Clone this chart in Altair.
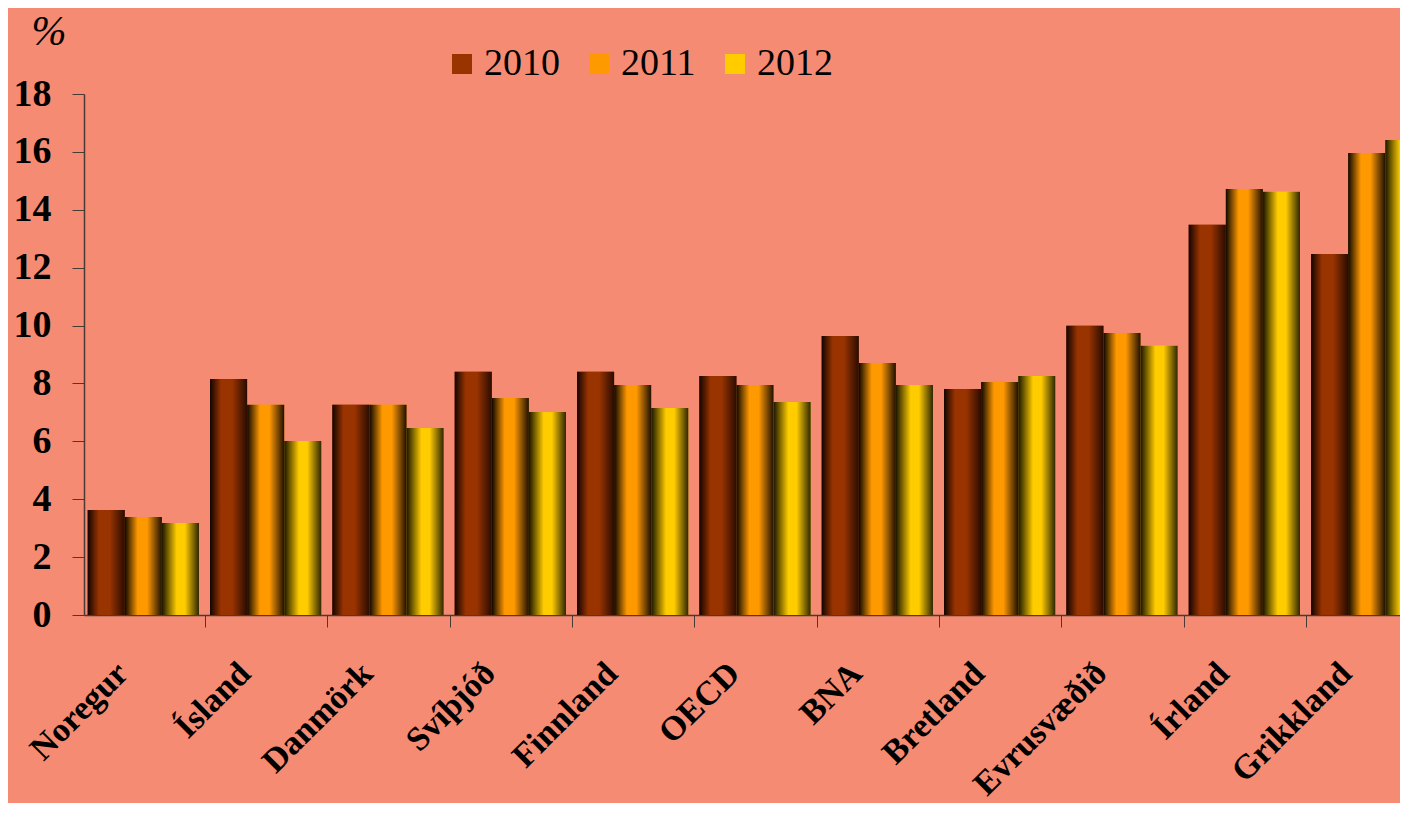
import altair as alt
import pandas as pd

countries = ["Noregur", "Ísland", "Danmörk", "Svíþjóð", "Finnland", "OECD",
             "BNA", "Bretland", "Evrusvæðið", "Írland", "Grikkland"]
years = ["2010", "2011", "2012"]
v2010 = [3.63, 8.15, 7.26, 8.40, 8.40, 8.26, 9.64, 7.81, 9.99, 13.48, 12.47]
v2011 = [3.39, 7.26, 7.26, 7.50, 7.95, 7.95, 8.71, 8.05, 9.74, 14.72, 15.96]
v2012 = [3.18, 6.01, 6.46, 7.01, 7.15, 7.36, 7.95, 8.26, 9.30, 14.62, 16.41]
y_ticks = [0, 2, 4, 6, 8, 10, 12, 14, 16, 18]

rows = []
for year, vals in zip(years, [v2010, v2011, v2012]):
    for c, v in zip(countries, vals):
        rows.append({"country": c, "year": year, "value": v})
df = pd.DataFrame(rows)

solid = ["#993300", "#FF9900", "#FFCC00"]
grad_stops = {
    "2010": [(0.0, "#120400"), (0.3, "#993300"), (0.6, "#993300"), (1.0, "#2a0c00")],
    "2011": [(0.0, "#0d0600"), (0.35, "#FF9900"), (0.6, "#FF9900"), (1.0, "#1f1000")],
    "2012": [(0.0, "#1a1500"), (0.4, "#FFCC00"), (0.62, "#FFCC00"), (1.0, "#2e2600")],
}

FONT = "Liberation Serif"
BG = "#F58B73"

x_enc = alt.X(
    "country:N",
    sort=countries,
    scale=alt.Scale(domain=countries, range=[0, 1342], paddingInner=0.09, paddingOuter=0.03),
    axis=alt.Axis(
        title=None, labelAngle=-45, labelAlign="right", labelBaseline="top",
        labelFont=FONT, labelFontSize=34, labelFontWeight="bold", labelColor="black",
        labelPadding=29, labelOffset=-39, bandPosition=1, tickExtra=False,
        tickOffset=6, tickSize=12,
        tickColor="#4a3a35", domainColor="#4a3a35", domainWidth=1.5, labelLimit=400,
    ),
)
y_enc = alt.Y(
    "value:Q",
    scale=alt.Scale(domain=[0, 18]),
    axis=alt.Axis(
        values=y_ticks, grid=False, format="d",
        labelFont=FONT, labelFontSize=38, labelFontWeight="bold", labelColor="black",
        labelPadding=21, tickSize=12, tickColor="#4a3a35",
        domainColor="#4a3a35", domainWidth=1.5,
        title="%", titleAngle=0, titleX=-53, titleY=-50, titleAlign="left",
        titleBaseline="alphabetic", titleFont=FONT, titleFontSize=42,
        titleFontWeight="normal", titleFontStyle="italic", titleColor="black",
    ),
)
xo_enc = alt.XOffset("year:N", scale=alt.Scale(domain=years))

base = alt.Chart(df).encode(x=x_enc, y=y_enc, xOffset=xo_enc)

legend_layer = base.mark_bar().encode(
    color=alt.Color(
        "year:N",
        scale=alt.Scale(domain=years, range=solid),
        legend=alt.Legend(
            orient="none", legendX=359, legendY=-49, direction="horizontal",
            title=None, symbolType="square", symbolSize=400, symbolStrokeWidth=0,
            labelFont=FONT, labelFontSize=38, labelColor="black",
            columnPadding=20, labelOffset=3, padding=0,
        ),
    )
)

layers = [legend_layer]
for yr in years:
    g = alt.Gradient(
        gradient="linear",
        stops=[alt.GradientStop(offset=o, color=c) for o, c in grad_stops[yr]],
        x1=0, x2=1, y1=0, y2=0,
    )
    layers.append(
        base.transform_filter(alt.datum.year == yr).mark_bar(color=g)
    )

chart = alt.layer(*layers).properties(
    width=1316,
    height=521,
    padding={"left": 76, "top": 86, "right": 0, "bottom": 188},
    autosize=alt.AutoSizeParams(type="none"),
).configure(
    background=BG,
).configure_view(stroke=None)

chart.save("out.html", embed_options={"renderer": "svg", "actions": False})
